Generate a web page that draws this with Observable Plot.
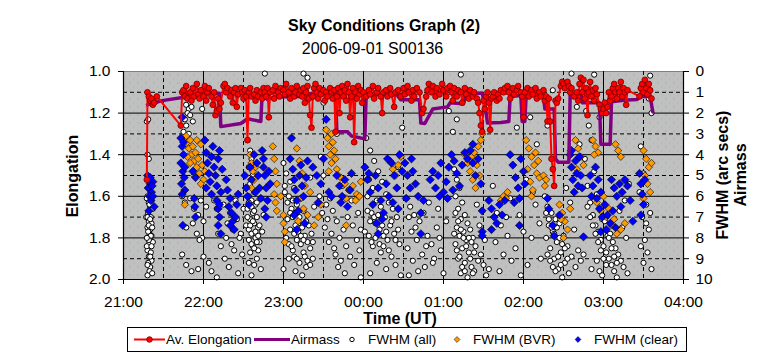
<!DOCTYPE html>
<html><head><meta charset="utf-8">
<script src="https://cdn.jsdelivr.net/npm/d3@7"></script>
<script src="https://cdn.jsdelivr.net/npm/@observablehq/plot@0.6"></script>
<style>
body{margin:0;background:#fff;}
#wrap{position:relative;width:764px;height:360px;font-family:"Liberation Sans",Arial,sans-serif;color:#000;overflow:hidden;background:#fff}
.abs{position:absolute;white-space:nowrap;line-height:16px}
#chart{position:absolute;left:0;top:0}
</style></head><body>
<div id="wrap">
<div id="chart"></div>
<div class="abs" style="left:0;width:768px;top:18px;text-align:center;font-weight:bold;font-size:16px;">Sky Conditions Graph (2)</div>
<div class="abs" style="left:0;width:745px;top:41px;text-align:center;font-size:16px;">2006-09-01 S00136</div>
<div class="abs" style="left:300px;width:200px;top:311px;text-align:center;font-weight:bold;font-size:16px;">Time (UT)</div>
<div class="abs" style="left:-27px;width:200px;top:168px;height:16px;text-align:center;font-weight:bold;font-size:16px;transform:rotate(-90deg);">Elongation</div>
<div class="abs" style="left:623px;width:200px;top:167px;height:16px;text-align:center;font-weight:bold;font-size:16px;transform:rotate(-90deg);">FWHM (arc secs)</div>
<div class="abs" style="left:641px;width:200px;top:167px;height:16px;text-align:center;font-weight:bold;font-size:16px;transform:rotate(-90deg);">Airmass</div>
<div id="legend" style="position:absolute;left:127px;top:327px;width:558px;height:23px;border:1px solid #000;background:#fff"></div>
</div>
<script>
// time in minutes after 21:00 UT
const hourTicks = [0,60,120,180,240,300,360,420];
const hourLabels = ["21:00","22:00","23:00","00:00","01:00","02:00","03:00","04:00"];
const halfHours = [30,90,150,210,270,330,390];
const elongTicks = [1.0,1.2,1.4,1.6,1.8,2.0];
const fwhmTicks = [0,1,2,3,4,5,6,7,8,9,10];
const seriesNames = ["Av. Elongation","Airmass","FWHM (all)","FWHM (BVR)","FWHM (clear)"];

// Av. Elongation [t, elongation]
const avElongation = [[17.5,1.52],[18,1.10],[19,1.12],[20,1.14],[21,1.13],[22,1.16],[23,1.15],[25,1.12],[43,1.26],[44,1.10],[45,1.09],[46,1.12],[47,1.07],[48,1.13],[50,1.10],[51,1.14],[52,1.08],[53,1.12],[55,1.06],[56,1.11],[57,1.13],[58,1.09],[60,1.12],[61,1.07],[62,1.14],[63,1.10],[64,1.08],[66,1.12],[67,1.16],[68,1.10],[69,1.21],[70,1.19],[71,1.13],[72,1.18],[73,1.15],[75,1.07],[76,1.06],[77,1.10],[78,1.08],[80,1.12],[81,1.09],[82,1.15],[83,1.10],[84,1.08],[85,1.17],[86,1.11],[88,1.08],[89,1.10],[90,1.13],[91,1.09],[92,1.12],[93,1.33],[94,1.10],[95,1.08],[96,1.12],[98,1.11],[99,1.14],[100,1.09],[101,1.12],[103,1.10],[104,1.13],[105,1.08],[106,1.10],[107,1.12],[108,1.08],[109,1.22],[110,1.10],[112,1.09],[113,1.13],[114,1.07],[116,1.10],[117,1.12],[118,1.08],[120,1.09],[121,1.11],[122,1.06],[124,1.10],[125,1.13],[126,1.08],[128,1.12],[129,1.10],[130,1.07],[132,1.11],[133,1.09],[134,1.12],[135,1.08],[136,1.15],[137,1.10],[138,1.07],[139,1.13],[140,1.21],[141,1.27],[142,1.12],[143,1.08],[144,1.06],[145,1.10],[146,1.13],[147,1.08],[148,1.11],[150,1.09],[151,1.14],[152,1.10],[153,1.12],[155,1.08],[156,1.10],[157,1.13],[158,1.09],[159,1.29],[160,1.12],[161,1.08],[162,1.20],[163,1.10],[164,1.07],[165,1.12],[166,1.09],[167,1.14],[168,1.06],[169,1.10],[170,1.22],[171,1.12],[172,1.08],[173,1.34],[174,1.10],[175,1.13],[176,1.07],[177,1.11],[178,1.09],[179,1.15],[180,1.10],[182,1.12],[184,1.09],[185,1.11],[187,1.07],[188,1.13],[190,1.10],[191,1.08],[193,1.12],[194,1.20],[195,1.10],[197,1.09],[198,1.12],[200,1.08],[201,1.11],[203,1.17],[204,1.10],[206,1.09],[208,1.12],[210,1.08],[211,1.11],[213,1.07],[214,1.10],[216,1.14],[217,1.09],[218,1.12],[220,1.08],[222,1.10],[224,1.20],[225,1.18],[227,1.12],[228,1.09],[229,1.06],[231,1.10],[232,1.07],[234,1.12],[235,1.08],[237,1.11],[239,1.06],[240,1.09],[242,1.12],[243,1.08],[245,1.07],[246,1.10],[247,1.14],[248,1.08],[250,1.12],[251,1.09],[253,1.10],[254,1.15],[256,1.08],[257,1.11],[259,1.13],[260,1.09],[262,1.12],[263,1.10],[265,1.13],[266,1.15],[267,1.20],[268,1.26],[269,1.29],[270,1.14],[271,1.18],[272,1.12],[273,1.10],[274,1.15],[275,1.28],[276,1.13],[277,1.12],[278,1.10],[280,1.14],[281,1.11],[282,1.13],[283,1.09],[285,1.10],[286,1.08],[288,1.07],[289,1.10],[290,1.13],[292,1.08],[293,1.11],[295,1.09],[296,1.07],[298,1.10],[299,1.12],[300,1.22],[301,1.10],[303,1.08],[304,1.12],[306,1.09],[307,1.11],[309,1.08],[310,1.13],[312,1.10],[313,1.12],[315,1.09],[316,1.14],[317,1.12],[318,1.24],[319,1.13],[320,1.24],[321,1.42],[322,1.47],[323,1.55],[324,1.14],[325,1.15],[326,1.13],[328,1.07],[329,1.05],[330,1.06],[331,1.08],[333,1.05],[334,1.07],[335,1.10],[336,1.08],[338,1.12],[340,1.10],[341,1.14],[342,1.06],[343,1.03],[344,1.10],[345,1.04],[346,1.13],[347,1.08],[348,1.21],[349,1.10],[350,1.05],[351,1.12],[352,1.09],[353,1.14],[354,1.08],[355,1.11],[357,1.16],[358,1.18],[359,1.20],[360,1.18],[361,1.15],[362,1.20],[363,1.17],[364,1.10],[365,1.14],[366,1.12],[367,1.08],[368,1.06],[369,1.10],[370,1.13],[371,1.08],[372,1.10],[373,1.05],[374,1.12],[375,1.08],[376,1.10],[377,1.16],[378,1.09],[387,1.12],[388,1.08],[389,1.06],[390,1.10],[391,1.04],[392,1.08],[393,1.11],[394,1.06],[395,1.09],[396,1.13]];

// Airmass [t, airmass] (right axis)
const airmass = [[18,1.6],[29,1.4],[49,1.2],[58,1.05],[69,1.07],[72,1.05],[73,2.65],[88,2.5],[93,2.27],[103,2.4],[104,1.07],[108,1.35],[113,1.23],[133,1.2],[141,1.05],[159,1.03],[160,2.88],[168,2.9],[171,3.1],[181,3.24],[182,1.12],[205,1.12],[208,1.36],[222,1.36],[223,2.48],[226,2.5],[232,1.8],[243,1.7],[245,1.5],[255,1.55],[257,1.03],[269,1.05],[271,1.55],[273,2.48],[283,2.45],[289,2.4],[290,1.2],[298,1.15],[299,2.4],[301,2.4],[302,1.15],[315,1.15],[316,1.8],[323,1.8],[324,4.2],[326,4.36],[334,4.36],[335,1.1],[343,1.1],[344,1.5],[357,1.5],[358,3.5],[365,3.5],[366,1.45],[375,1.38],[385,1.35],[388,1.2],[395,1.2],[397,1.95]];

// FWHM (all) [t, arcsec]
const fwhmAll = [[17.5,2.4],[18.5,2.3],[18,4.0],[19,4.2],[18,6.0],[19,6.3],[20,6.5],[18.5,6.8],[20.5,7.0],[19,7.2],[21,7.3],[18,7.5],[20,7.6],[19.5,7.8],[21,7.9],[18.5,8.0],[20,8.1],[19,8.3],[18,8.6],[20.5,8.7],[19,8.9],[21,9.1],[18.5,9.2],[20,9.4],[19.5,9.6],[21.5,9.7],[18,9.8],[22,8.2],[22,6.6],[17,7.0],[17.5,8.4],
[17.5,6.1],[19.5,6.4],[21,6.2],[18,7.0],[19,7.4],[20,7.1],[21.5,7.5],[18.5,7.7],[20.5,7.9],[19,8.1],[21,8.4],[17.5,8.0],[20,8.9],[18,9.3],
[47,1.6],[49,1.8],[51,1.7],[48,2.0],[50,2.1],[46,2.3],[52,2.4],[47,2.6],[45,2.9],[49,3.0],[59,1.8],
[44,6.0],[46,6.3],[50,6.1],[53,6.6],[56,6.9],[58,6.2],[60,7.2],[47,7.5],[52,7.3],[55,7.8],[59,8.0],[62,6.5],[57,8.1],[44,8.8],[47,9.3],[51,9.6],[60,8.9],[64,9.2],[56,9.5],[66,9.6],
[68,6.2],[70,6.6],[72,7.0],[75,6.4],[78,7.3],[80,6.8],[82,7.6],[85,7.1],[84,6.2],[88,7.8],[90,6.6],[92,7.4],[73,8.4],[76,9.0],[79,9.4],[86,9.7],[89,8.8],[94,9.2],[70,9.9],[83,8.6],[71,7.8],[77,8.0],[81,8.3],[87,8.0],
[93,3.3],[95,3.8],[96,4.2],[94,4.6],[97,5.0],[95,5.4],[98,5.8],[94,6.0],[96,6.2],[99,6.4],[93,6.6],[97,6.8],[100,7.0],[95,7.1],[98,7.3],[101,7.5],[94,7.6],[96,7.8],[99,8.0],[102,8.2],[97,8.4],[95,8.7],[100,9.0],[98,9.3],[103,9.5],[96,9.8],[101,8.6],[104,7.7],[105,6.9],[103,6.1],[106,0.1],
[94,6.3],[96,6.5],[98,6.7],[100,6.3],[93,7.0],[95,7.4],[97,7.2],[99,7.7],[101,7.9],[94,8.1],[96,8.3],[98,8.5],[100,8.2],[102,7.4],
[120,4.4],[122,4.9],[125,5.3],[128,5.6],[121,5.8],[124,6.0],[127,6.2],[130,6.4],[133,6.1],[126,6.6],[129,6.8],[132,7.0],[135,6.7],[123,7.1],[131,7.3],[134,7.5],[137,7.2],[125,7.6],[128,7.8],[136,7.9],[139,7.4],[130,8.1],[133,8.3],[138,8.2],[141,7.8],[127,8.6],[135,8.7],[140,8.5],[124,9.0],[132,9.2],[137,9.4],[142,9.0],[129,9.6],[134,9.8],[120,9.5],[143,6.5],[126,3.2],[140,5.1],
[121,5.5],[123,6.3],[125,6.8],[127,7.0],[129,7.4],[131,7.7],[133,7.9],[135,8.1],[122,8.0],[124,8.3],[126,8.4],[128,8.9],[130,9.0],[136,8.9],[138,9.1],[140,9.3],[142,8.2],
[148,4.1],[150,5.0],[147,6.0],[152,6.4],[155,6.1],[149,6.8],[153,7.1],[157,6.7],[151,7.5],[156,7.8],[160,7.2],[154,8.2],[158,8.5],[162,8.0],[165,7.6],[159,8.8],[163,9.1],[167,8.4],[161,9.4],[166,9.7],[170,8.9],[168,7.0],[172,7.4],[175,8.1],[173,9.3],[177,8.6],[176,6.8],[171,6.2],[178,7.6],[169,5.7],[160,3.0],[150,1.5],[135,0.1],[138,0.3],[178,9.9],[164,5.5],
[182,3.2],[185,3.8],[188,4.3],[191,4.8],[184,5.2],[187,5.6],[194,5.3],[197,5.9],[183,6.0],[190,6.2],[193,6.5],[199,6.3],[186,6.8],[196,7.0],[202,6.6],[189,7.3],[192,7.6],[200,7.4],[205,7.0],[195,7.9],[198,8.1],[203,7.8],[187,8.4],[193,8.7],[207,8.3],[201,8.9],[190,9.2],[197,9.5],[204,9.3],[208,9.8],[185,9.7],[209,2.7],[206,4.6],[181,7.7],
[183,6.7],[185,7.2],[188,7.0],[191,6.9],[194,7.4],[197,7.7],[184,7.9],[186,8.2],[189,8.0],[192,8.3],[195,8.4],[199,8.6],[201,7.2],[204,8.1],[206,7.6],
[212,6.1],[215,6.5],[218,6.9],[222,7.2],[216,7.7],[225,6.8],[220,8.1],[213,8.5],[228,7.9],[224,8.8],[231,8.3],[217,9.1],[235,7.5],[226,9.4],[233,9.0],[238,8.6],[240,9.7],[214,9.8],[236,6.6],[229,6.3],[242,7.2],[221,9.6],[214,7.0],[219,7.5],[227,8.4],[232,9.2],[237,8.0],
[248,4.7],[250,5.2],[252,5.6],[249,6.0],[254,6.3],[251,6.6],[256,6.9],[253,7.1],[258,7.3],[250,7.5],[255,7.7],[260,7.6],[252,7.9],[257,8.1],[262,8.0],[249,8.3],[254,8.5],[259,8.7],[264,8.4],[251,9.0],[256,9.2],[261,9.4],[266,9.1],[253,9.7],[258,9.9],[263,9.6],[268,8.8],[270,9.3],[272,9.8],[265,6.4],[267,7.4],[247,2.9],[250,2.3],[244,1.9],[253,0.15],[274,9.5],[271,8.1],
[249,6.8],[251,7.2],[253,7.6],[255,8.0],[257,8.4],[259,8.0],[261,8.2],[263,8.7],[248,7.8],[250,8.6],[252,8.9],[254,9.4],[256,9.6],[260,9.0],[262,9.7],
[277,5.5],[280,6.8],[283,7.4],[279,8.2],[285,8.8],[288,7.9],[291,9.1],[294,8.5],[297,6.9],[300,7.7],[303,9.3],[306,8.0],[309,6.4],[312,7.3],[295,2.7],[305,2.2],[310,3.5],[302,5.2],[290,6.1],[282,9.6],[298,9.8],[313,9.0],[287,7.0],[307,5.8],
[316,6.0],[318,6.5],[321,6.8],[324,7.1],[319,7.4],[322,7.7],[327,7.3],[317,8.0],[325,8.2],[330,7.9],[320,8.5],[328,8.7],[333,8.4],[323,9.0],[331,9.2],[336,8.9],[326,9.5],[334,9.7],[339,9.4],[329,9.9],[338,7.6],[341,8.6],[343,9.1],[335,6.3],[332,5.6],[318,2.6],[322,0.9],[336,0.1],[340,1.7],[342,3.5],
[317,6.8],[319,7.1],[321,7.5],[323,7.8],[325,7.5],[327,8.0],[329,8.3],[331,8.5],[333,9.0],[318,8.8],[320,9.1],[322,9.4],[324,9.6],[326,8.9],[328,9.3],
[347,1.9],[349,2.6],[351,3.3],[346,4.2],[353,4.8],[348,5.5],[355,5.9],[350,6.3],[357,6.6],[352,6.9],[359,7.1],[354,7.4],[361,7.2],[356,7.7],[363,7.9],[358,8.1],[365,7.8],[360,8.4],[367,8.2],[362,8.7],[369,8.5],[364,9.0],[371,8.8],[366,9.3],[373,9.1],[368,9.6],[375,9.4],[370,9.9],[377,8.0],[372,6.7],[374,7.5],[376,6.2],[378,9.7],[353,0.15],[357,2.2],[379,5.4],[351,9.5],[345,8.8],
[348,6.5],[350,7.0],[352,7.4],[354,7.8],[356,8.2],[358,8.6],[360,9.0],[362,9.3],[364,8.0],[366,8.5],[368,8.9],[370,9.2],[355,9.1],[357,9.6],[359,9.8],
[388,3.6],[390,4.9],[387,5.8],[392,6.4],[389,7.0],[394,7.6],[391,8.1],[395,6.8],[393,8.7],[390,9.2],[396,9.5],[388,8.4],[395,0.2],[394,1.3],[396,2.0],[392,7.3]];

// FWHM (BVR) [t, arcsec]
const fwhmBVR = [[47,3.1],[48,3.4],[49,3.7],[50,3.3],[51,4.0],[52,3.6],[53,4.3],[54,3.9],[55,4.6],[56,4.2],[57,4.9],[58,3.5],[59,4.5],[60,5.2],[61,4.8],[50,4.4],[53,5.0],[48,4.1],[55,3.3],[58,5.4],[46,6.4],
[95,4.0],[96,4.4],[97,4.8],[98,5.2],[96,5.6],[99,4.6],
[112,3.6],[113,4.2],[114,4.8],[115,5.4],[113,5.9],[114,6.3],[115,6.7],[120,6.9],[120,7.3],[121,7.7],[121,8.2],[118,6.0],
[130,3.7],[132,4.3],[134,4.9],[136,5.5],[133,6.1],[135,6.6],[131,7.2],[138,6.9],[143,7.4],[146,7.0],[140,5.8],[148,6.4],
[152,2.8],[153,3.2],[154,3.6],[155,4.0],[156,4.4],[157,3.4],[158,3.8],[159,4.2],[160,4.7],[161,5.0],[154,4.8],[156,3.0],
[163,5.1],[166,5.4],[169,5.7],[172,5.5],[175,5.9],[178,5.3],[167,6.1],[174,6.2],[167,7.4],[177,6.0],
[200,4.3],[202,4.7],[204,5.0],[206,4.5],[208,4.1],
[256,4.0],[258,4.4],[260,4.8],[262,5.2],[264,5.6],[266,3.6],[268,3.3],[269,3.0],[261,4.1],[265,4.5],[263,3.9],[267,5.0],
[283,6.2],[285,6.0],[287,6.1],[288,5.8],
[302,3.3],[304,3.7],[306,4.1],[308,4.5],[310,4.9],[305,5.3],[307,5.7],[309,3.9],[311,4.3],[303,4.7],[312,5.1],[306,6.0],
[315,5.0],[316,5.5],[317,5.2],
[327,6.4],[329,6.8],[331,7.2],[333,7.6],[330,8.0],[328,7.1],[335,6.6],
[339,3.3],[341,3.7],[343,4.1],[345,4.5],[340,4.7],
[352,3.3],[354,3.6],[356,3.9],[353,4.0],
[355,6.3],[358,6.7],[362,7.0],[366,7.4],[370,7.8],[364,6.6],[368,7.1],[373,7.6],[360,6.0],[376,7.3],
[369,3.5],[371,3.8],[373,4.1],
[390,3.8],[392,4.2],[394,4.6],[391,5.0],[393,5.4],[395,5.8],[396,4.4],[390,6.1]];

// FWHM (clear) [t, arcsec]
const fwhmClear = [[18,5.0],[19,5.2],[20,5.4],[18.5,5.6],[21,5.8],[19.5,6.0],[22,5.3],[20.5,6.2],[21.5,5.5],[23,6.5],[19,6.7],[22,6.0],[20,5.1],
[44,2.2],[43,3.2],[44,3.6],[45,4.0],[43,4.4],[44.5,4.8],[45.5,5.1],[43.5,5.4],[46,5.7],[44,5.9],[45,3.4],[46,4.6],[44.5,7.4],
[52,4.8],[54,5.1],[53,6.1],[53.5,6.5],[54,7.0],
[61,3.3],[62,3.9],[63,4.4],[64,4.9],[65,5.3],[66,4.1],[67,3.6],[68,4.6],[69,5.0],[70,5.5],[71,4.2],[72,3.8],[73,5.8],[74,4.7],[62,5.6],[66,5.9],
[70,6.2],[71,6.6],[72,7.0],[71,7.4],[73,7.8],[72,6.4],
[77,5.2],[78,5.7],[80,6.1],[79,6.5],[81,6.8],[82,7.2],[84,7.0],[83,7.6],[85,6.4],[86,5.9],[80,7.4],
[91,5.0],[92,5.6],[93,6.0],[95,4.6],[96,5.2],[98,4.0],[100,4.4],[101,5.0],[102,5.6],[103,6.1],[104,3.8],[105,4.6],[99,5.8],[94,6.4],
[105,4.2],[106,5.0],[107,5.6],[108,6.2],[106,6.6],[109,4.8],[110,5.4],[107,7.0],
[126,3.2],[125,4.2],[127,4.7],[128,5.2],[129,5.7],[130,6.2],[131,6.7],[132,5.0],[133,4.5],[134,5.5],[135,6.0],[128,6.9],[136,7.3],[130,7.6],[137,5.1],[138,4.3],
[152,2.3],[142,4.6],[145,5.0],[148,5.4],[150,4.2],[154,5.8],[156,6.0],[146,6.3],
[160,5.0],[162,5.5],[164,6.0],[166,5.2],[168,6.5],[170,5.7],[163,6.3],[171,4.9],
[181,4.6],[183,5.2],[185,5.8],[187,6.4],[189,5.0],[191,5.6],[193,6.2],[195,6.8],[197,5.4],[199,6.0],[201,4.4],[203,5.0],[205,5.6],[207,4.0],[209,4.8],[194,7.1],[190,7.3],[191,7.8],[184,4.9],[198,4.2],[202,6.3],[206,6.6],
[211,4.4],[213,5.0],[215,5.6],[217,4.8],[219,5.4],[221,6.0],[212,6.1],[216,4.2],[225,6.2],[223,6.8],[223,7.8],
[230,5.2],[232,4.8],[234,5.6],[236,5.0],[238,4.4],[240,5.8],[242,5.3],[244,4.6],[246,4.0],[248,4.3],[250,4.9],[252,5.5],[254,4.5],[256,3.9],[258,4.2],[237,6.0],[247,5.7],[243,6.1],
[260,3.8],[262,4.4],[264,5.0],[266,4.2],[268,5.4],[262,3.5],[269,6.7],[269,7.7],[269,7.9],
[274,6.2],[276,6.6],[278,7.0],[280,7.3],[282,6.4],[284,6.9],[276,7.6],[286,6.2],
[290,4.0],[292,4.5],[294,5.1],[296,5.6],[298,4.2],[300,4.8],[297,6.1],[293,6.3],[301,5.4],[297,7.4],
[318,6.1],[319,6.6],[327,6.9],[322,7.4],[323,7.9],
[335,4.0],[336,4.6],[337,5.2],[338,5.8],[339,4.3],[340,4.9],[341,5.5],[342,4.1],[343,5.0],[344,5.6],[336,3.8],[345,7.95],
[350,5.0],[352,5.5],[354,4.6],[356,5.2],[358,5.8],[351,6.0],
[355,6.1],[357,6.6],[359,7.0],[361,6.4],[363,6.9],[365,7.3],[367,6.7],[369,7.5],[358,7.7],[362,7.6],
[366,5.2],[368,5.6],[370,6.0],[372,5.4],[374,5.8],[376,5.2],[378,5.5],[380,6.2],[382,7.2],[373,6.5],
[387,4.9],[388,5.4],[389,5.9],[390,6.4],[388,6.9],[391,5.2]];

// the right axis (FWHM / Airmass, 0..10) is aligned with the left axis (Elongation 1..2)
const toLeft = v => 1 + v / 10;
const X = d => d[0];
const Yr = d => toLeft(d[1]);

const majorY = elongTicks.slice(1, -1);
const minorY = fwhmTicks.filter(v => v % 2 === 1).map(toLeft);
const innerHours = hourTicks.slice(1, -1);

const chart = Plot.plot({
  width: 764, height: 360,
  marginLeft: 123, marginRight: 81, marginTop: 71, marginBottom: 81,
  style: {fontFamily: '"Liberation Sans", Arial, sans-serif', fontSize: "15.5px", color: "#000", background: "transparent"},
  x: {domain: [hourTicks[0], hourTicks[hourTicks.length - 1]]},
  y: {domain: [elongTicks[0], elongTicks[elongTicks.length - 1]], reverse: true},
  marks: [
    Plot.frame({fill: "url(#bgdots)", stroke: "#808080"}),
    Plot.ruleY(majorY, {stroke: "#000", strokeWidth: 1}),
    Plot.ruleY(minorY, {stroke: "#000", strokeWidth: 1, strokeDasharray: "4,3"}),
    Plot.ruleX(innerHours, {stroke: "#000", strokeWidth: 1}),
    Plot.ruleX(halfHours, {stroke: "#000", strokeWidth: 1, strokeDasharray: "4,3"}),
    Plot.dot(fwhmAll, {x: X, y: Yr, r: 2.6, fill: "#fff", stroke: "#000", strokeWidth: 1}),
    Plot.dot(fwhmBVR, {x: X, y: Yr, symbol: "diamond2", r: 3.3, fill: "#FF9900", stroke: "#000", strokeWidth: 0.6}),
    Plot.dot(fwhmClear, {x: X, y: Yr, symbol: "diamond2", r: 3.7, fill: "#0000FF", stroke: "#000", strokeWidth: 0.6}),
    Plot.line(airmass, {x: X, y: Yr, stroke: "#800080", strokeWidth: 3.5}),
    Plot.line(avElongation, {x: X, y: d => d[1], stroke: "#FF0000", strokeWidth: 2}),
    Plot.dot(avElongation, {x: X, y: d => d[1], r: 2.9, fill: "#FF0000", stroke: "#700000", strokeWidth: 0.8}),
    Plot.ruleX([hourTicks[0], hourTicks[hourTicks.length - 1]], {stroke: "#000", strokeWidth: 1.2}),
    Plot.ruleY([elongTicks[elongTicks.length - 1]], {stroke: "#000", strokeWidth: 1.2}),
    Plot.axisY(elongTicks, {anchor: "left", tickSize: 5, tickPadding: 8, tickFormat: d => d.toFixed(1), label: null}),
    Plot.axisY(fwhmTicks.map(toLeft), {anchor: "right", tickSize: 5, tickPadding: 7, tickFormat: d => String(Math.round((d - 1) * 10)), label: null}),
    Plot.axisX(hourTicks, {anchor: "bottom", tickSize: 5, tickPadding: 11, tickFormat: d => hourLabels[hourTicks.indexOf(d)], label: null})
  ]
});

// dotted (Excel-like) plot area background
const NS = "http://www.w3.org/2000/svg";
const defs = document.createElementNS(NS, "defs");
const pat = document.createElementNS(NS, "pattern");
pat.setAttribute("id", "bgdots"); pat.setAttribute("width", "8"); pat.setAttribute("height", "8");
pat.setAttribute("patternUnits", "userSpaceOnUse");
[["0","0","8","8","#c0c0c0"],["1","2","1","1","#86aa86"],["5","6","1","1","#a2b8a2"]].forEach(([x,y,w,h,f]) => {
  const r = document.createElementNS(NS, "rect");
  r.setAttribute("x", x); r.setAttribute("y", y); r.setAttribute("width", w); r.setAttribute("height", h); r.setAttribute("fill", f);
  pat.appendChild(r);
});
defs.appendChild(pat);
chart.insertBefore(defs, chart.firstChild);
document.getElementById("chart").appendChild(chart);

// legend
const lg = d3.select("#legend").append("svg").attr("width", 558).attr("height", 23)
  .style("font-family", '"Liberation Sans", Arial, sans-serif').style("font-size", "13.5px");
const cy = 11.5;
lg.append("line").attr("x1", 6).attr("x2", 37).attr("y1", cy).attr("y2", cy).attr("stroke", "#FF0000").attr("stroke-width", 2);
lg.append("circle").attr("cx", 21.5).attr("cy", cy).attr("r", 2.8).attr("fill", "#FF0000").attr("stroke", "#700000").attr("stroke-width", 0.8);
lg.append("text").attr("x", 38).attr("y", cy).attr("dy", "0.35em").text(seriesNames[0]);
lg.append("line").attr("x1", 126).attr("x2", 162).attr("y1", cy).attr("y2", cy).attr("stroke", "#800080").attr("stroke-width", 3);
lg.append("text").attr("x", 163).attr("y", cy).attr("dy", "0.35em").text(seriesNames[1]);
lg.append("circle").attr("cx", 224).attr("cy", cy).attr("r", 2.2).attr("fill", "#fff").attr("stroke", "#000");
lg.append("text").attr("x", 240).attr("y", cy).attr("dy", "0.35em").text(seriesNames[2]);
lg.append("path").attr("d", d3.symbol(d3.symbolDiamond2, 22)()).attr("transform", `translate(329,${cy})`).attr("fill", "#FF9900").attr("stroke", "#000").attr("stroke-width", 0.5);
lg.append("text").attr("x", 345).attr("y", cy).attr("dy", "0.35em").text(seriesNames[3]);
lg.append("path").attr("d", d3.symbol(d3.symbolDiamond2, 22)()).attr("transform", `translate(450,${cy})`).attr("fill", "#0000FF").attr("stroke", "#000").attr("stroke-width", 0.5);
lg.append("text").attr("x", 466).attr("y", cy).attr("dy", "0.35em").text(seriesNames[4]);
</script>
</body></html>
